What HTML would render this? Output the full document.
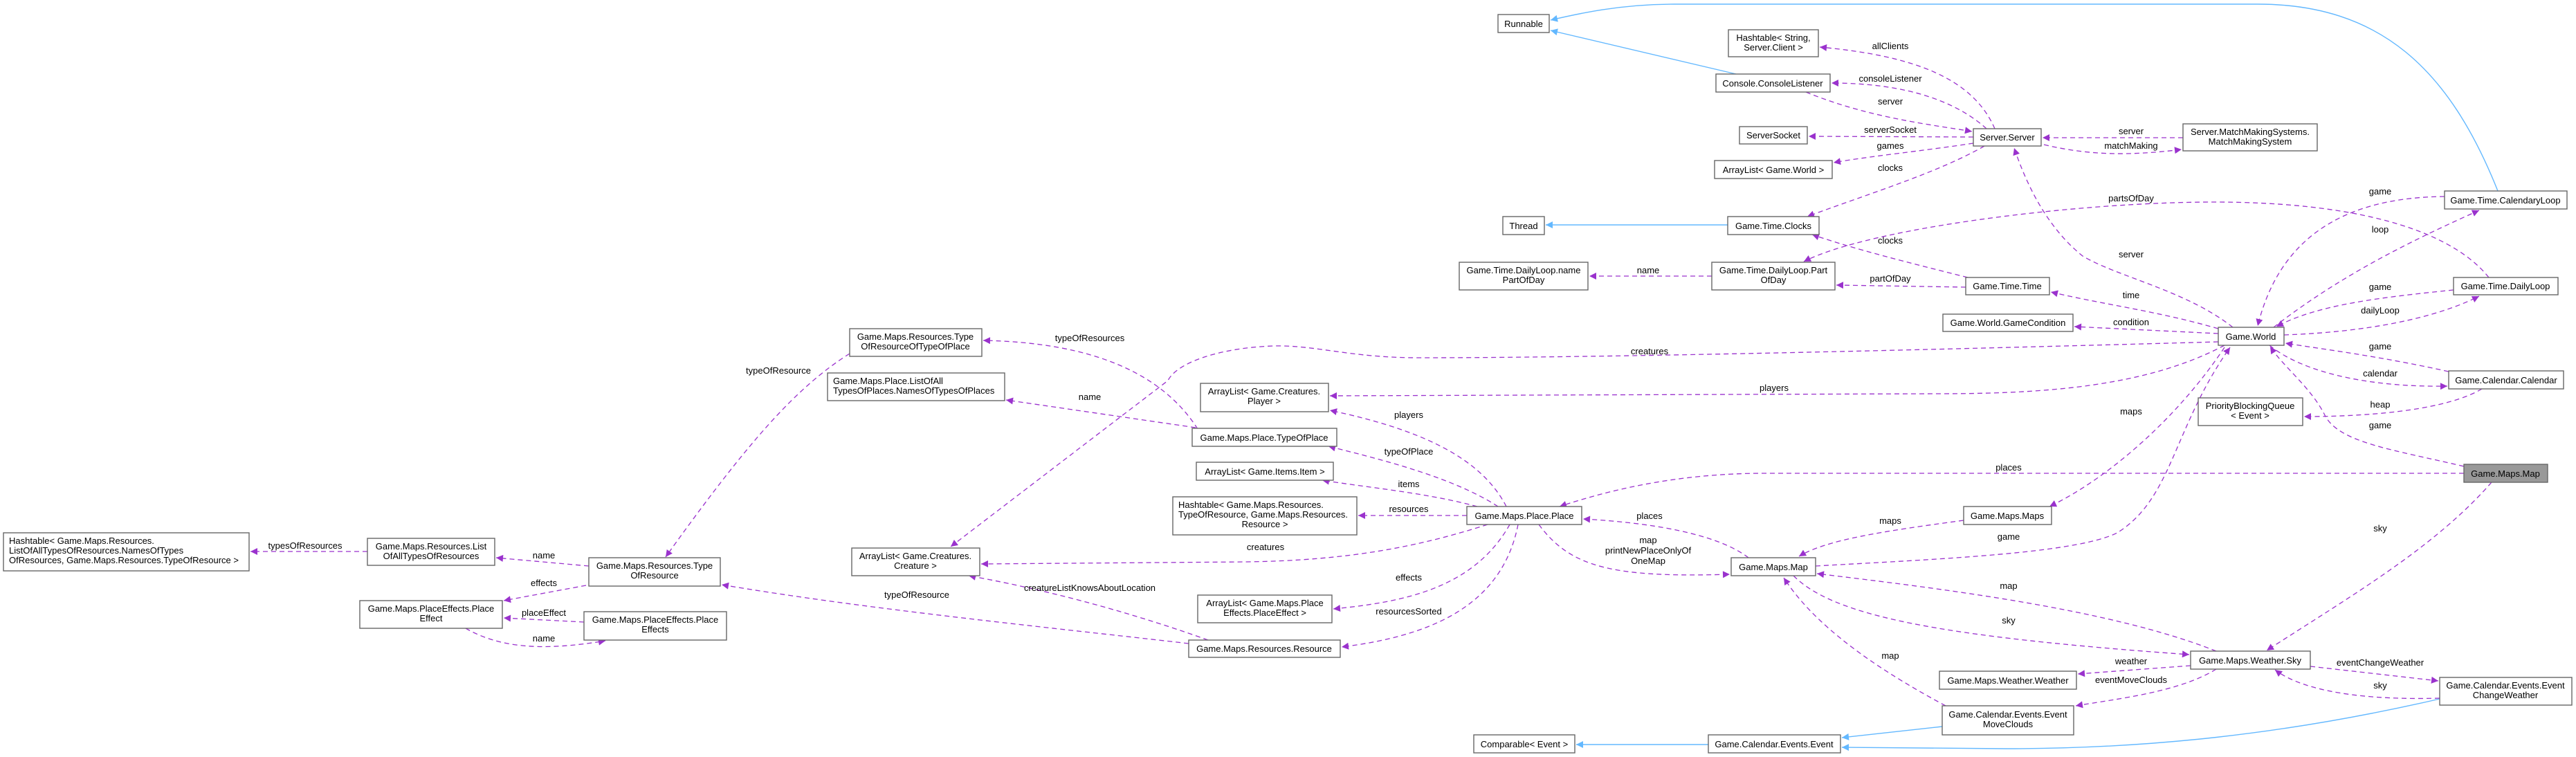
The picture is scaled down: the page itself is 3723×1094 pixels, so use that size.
<!DOCTYPE html>
<html><head><meta charset="utf-8"><style>
html,body{margin:0;padding:0;background:#fff;}
svg{display:block;}
text{font-family:"Liberation Sans",Arial,sans-serif;font-size:13px;fill:#000;}
.b{fill:#fff;stroke:#666;stroke-width:1.4;}
.g{fill:#999;stroke:#666;stroke-width:1.4;}
.u{fill:none;stroke:#9a32cd;stroke-width:1.3;stroke-dasharray:7,5;marker-end:url(#pa);}
.i{fill:none;stroke:#63b8ff;stroke-width:1.4;marker-end:url(#ba);}
.l{text-anchor:middle;}
</style></head><body>
<svg width="3723" height="1094" viewBox="0 0 3723 1094" xmlns="http://www.w3.org/2000/svg">
<defs>
<marker id="pa" viewBox="0 0 10 10" refX="10" refY="5" markerWidth="13" markerHeight="10" markerUnits="userSpaceOnUse" orient="auto"><path d="M0,0 L10,5 L0,10 z" fill="#9a32cd"/></marker>
<marker id="ba" viewBox="0 0 10 10" refX="10" refY="5" markerWidth="13" markerHeight="10" markerUnits="userSpaceOnUse" orient="auto"><path d="M0,0 L10,5 L0,10 z" fill="#63b8ff"/></marker>
</defs>

<!-- inheritance -->
<path class="i" d="M2509,107 L2241,44"/>
<path class="i" d="M3610,276 C3540,100 3440,6 3263,6 L2420,6 C2340,6 2280,20 2241,29"/>
<path class="i" d="M2497,325 L2234,325"/>
<path class="i" d="M2807,1050 L2662,1066"/>
<path class="i" d="M3526,1010 C3300,1062 3100,1082 2900,1082 L2662,1080"/>
<path class="i" d="M2469,1076 L2278,1076"/>

<!-- usage edges -->
<path class="u" d="M531,797 L362,797"/>
<path class="u" d="M851,818 L717,806"/>
<path class="u" d="M847,846 L728,868"/>
<path class="u" d="M844,899 L728,893"/>
<path class="u" d="M673,908 C720,935 780,942 875,926"/>
<path class="u" d="M1228,511 C1150,560 1080,640 962,805"/>
<path class="u" d="M1731,620 C1680,540 1580,495 1421,492"/>
<path class="u" d="M1728,618 L1454,578"/>
<path class="u" d="M1718,930 C1500,905 1250,880 1043,845"/>
<path class="u" d="M1746,925 C1620,880 1500,850 1400,832"/>
<path class="u" d="M3206,494 C2700,508 2300,517 2050,517 C1950,517 1900,498 1839,500 C1760,503 1700,525 1688,550 L1374,790"/>
<path class="u" d="M2150,758 C2050,790 1950,810 1800,812 L1418,815"/>
<path class="u" d="M3215,499 C3100,560 2950,569 2800,569 L1922,572"/>
<path class="u" d="M2177,732 C2140,660 2050,620 1922,593"/>
<path class="u" d="M2165,732 C2100,690 2000,665 1920,645"/>
<path class="u" d="M2135,732 C2060,712 1980,705 1911,694"/>
<path class="u" d="M2120,745 L1963,745"/>
<path class="u" d="M2182,758 C2130,850 2030,870 1927,880"/>
<path class="u" d="M2194,758 C2170,880 2060,920 1939,935"/>
<path class="u" d="M2527,806 C2480,770 2380,755 2288,750"/>
<path class="u" d="M2224,758 C2270,820 2330,835 2500,830"/>
<path class="u" d="M3561,684 L2550,684 C2420,684 2320,710 2254,732"/>
<path class="u" d="M2838,752 C2720,768 2640,780 2600,804"/>
<path class="u" d="M3215,502 C3150,600 3050,690 2962,732"/>
<path class="u" d="M2624,818 C2800,808 3000,800 3060,770 C3140,720 3140,620 3223,502"/>
<path class="u" d="M3203,941 C3050,880 2800,850 2626,829"/>
<path class="u" d="M2592,832 C2650,890 2800,920 3164,946"/>
<path class="u" d="M3601,697 C3520,790 3400,860 3276,940"/>
<path class="u" d="M3166,962 L3003,974"/>
<path class="u" d="M3203,967 C3150,1000 3060,1010 3000,1020"/>
<path class="u" d="M2812,1020 C2700,960 2620,900 2578,835"/>
<path class="u" d="M3339,963 L3524,984"/>
<path class="u" d="M3526,1009 C3420,1012 3330,1000 3288,968"/>
<!-- server area -->
<path class="u" d="M2883,186 C2850,110 2760,80 2630,68"/>
<path class="u" d="M2871,186 C2820,140 2740,120 2647,120"/>
<path class="u" d="M2610,133 C2700,170 2790,180 2850,190"/>
<path class="u" d="M2852,198 L2614,197"/>
<path class="u" d="M2852,207 C2780,218 2700,226 2650,235"/>
<path class="u" d="M2868,211 C2800,250 2700,280 2612,313"/>
<path class="u" d="M3155,199 L2952,199"/>
<path class="u" d="M2954,209 C3020,225 3080,225 3153,216"/>
<path class="u" d="M3227,473 C3160,420 3060,400 3010,370 C2960,330 2930,270 2911,214"/>
<path class="u" d="M3597,401 C3540,330 3400,292 3200,292 C3000,292 2700,330 2607,378"/>
<path class="u" d="M2844,401 C2760,380 2680,360 2619,339"/>
<path class="u" d="M2474,399 L2297,399"/>
<path class="u" d="M2841,415 L2654,412"/>
<path class="u" d="M3206,475 C3120,450 3040,440 2964,422"/>
<path class="u" d="M3206,482 L2998,472"/>
<path class="u" d="M3286,473 C3380,400 3480,350 3583,304"/>
<path class="u" d="M3533,284 C3420,285 3300,320 3263,471"/>
<path class="u" d="M3546,419 C3440,430 3350,440 3290,472"/>
<path class="u" d="M3301,484 C3420,480 3520,460 3583,428"/>
<path class="u" d="M3539,537 C3440,515 3360,505 3303,496"/>
<path class="u" d="M3280,499 C3330,540 3430,560 3537,558"/>
<path class="u" d="M3587,562 C3540,590 3440,602 3330,602"/>
<path class="u" d="M3561,674 C3460,650 3380,640 3360,600 C3340,560 3300,530 3281,501"/>

<!-- edge labels -->
<g class="l">
<text x="441" y="793">typesOfResources</text>
<text x="786" y="807">name</text>
<text x="786" y="847">effects</text>
<text x="786" y="890">placeEffect</text>
<text x="786" y="927">name</text>
<text x="1125" y="540">typeOfResource</text>
<text x="1575" y="493">typeOfResources</text>
<text x="1575" y="578">name</text>
<text x="1325" y="864">typeOfResource</text>
<text x="1575" y="854">creatureListKnowsAboutLocation</text>
<text x="1829" y="795">creatures</text>
<text x="2384" y="512">creatures</text>
<text x="2564" y="565">players</text>
<text x="2036" y="604">players</text>
<text x="2036" y="657">typeOfPlace</text>
<text x="2036" y="704">items</text>
<text x="2036" y="740">resources</text>
<text x="2036" y="839">effects</text>
<text x="2036" y="888">resourcesSorted</text>
<text x="2384" y="750">places</text>
<text x="2382" y="785">map</text>
<text x="2382" y="800">printNewPlaceOnlyOf</text>
<text x="2382" y="815">OneMap</text>
<text x="2903" y="680">places</text>
<text x="2732" y="757">maps</text>
<text x="3080" y="599">maps</text>
<text x="2903" y="780">game</text>
<text x="2903" y="851">map</text>
<text x="2903" y="901">sky</text>
<text x="3440" y="768">sky</text>
<text x="3080" y="960">weather</text>
<text x="3080" y="987">eventMoveClouds</text>
<text x="2732" y="952">map</text>
<text x="3440" y="962">eventChangeWeather</text>
<text x="3440" y="995">sky</text>
<text x="2732" y="71">allClients</text>
<text x="2732" y="118">consoleListener</text>
<text x="2732" y="151">server</text>
<text x="2732" y="192">serverSocket</text>
<text x="2732" y="215">games</text>
<text x="2732" y="247">clocks</text>
<text x="3080" y="194">server</text>
<text x="3080" y="215">matchMaking</text>
<text x="3080" y="372">server</text>
<text x="3080" y="291">partsOfDay</text>
<text x="2732" y="352">clocks</text>
<text x="2382" y="395">name</text>
<text x="2732" y="407">partOfDay</text>
<text x="3080" y="431">time</text>
<text x="3080" y="470">condition</text>
<text x="3440" y="336">loop</text>
<text x="3440" y="281">game</text>
<text x="3440" y="419">game</text>
<text x="3440" y="453">dailyLoop</text>
<text x="3440" y="505">game</text>
<text x="3440" y="544">calendar</text>
<text x="3440" y="589">heap</text>
<text x="3440" y="619">game</text>
</g>

<!-- boxes -->
<rect class="b" x="5" y="770" width="355" height="55"/>
<text x="13" y="786">Hashtable&lt; Game.Maps.Resources.</text>
<text x="13" y="800">ListOfAllTypesOfResources.NamesOfTypes</text>
<text x="13" y="814">OfResources, Game.Maps.Resources.TypeOfResource &gt;</text>

<rect class="b" x="531" y="778" width="184" height="39"/>
<text class="l" x="623" y="794">Game.Maps.Resources.List</text>
<text class="l" x="623" y="808">OfAllTypesOfResources</text>

<rect class="b" x="851" y="806" width="190" height="41"/>
<text class="l" x="946" y="822">Game.Maps.Resources.Type</text>
<text class="l" x="946" y="836">OfResource</text>

<rect class="b" x="520" y="868" width="206" height="40"/>
<text class="l" x="623" y="884">Game.Maps.PlaceEffects.Place</text>
<text class="l" x="623" y="898">Effect</text>

<rect class="b" x="844" y="884" width="206" height="41"/>
<text class="l" x="947" y="900">Game.Maps.PlaceEffects.Place</text>
<text class="l" x="947" y="914">Effects</text>

<rect class="b" x="1228" y="475" width="191" height="40"/>
<text class="l" x="1323" y="491">Game.Maps.Resources.Type</text>
<text class="l" x="1323" y="505">OfResourceOfTypeOfPlace</text>

<rect class="b" x="1196" y="539" width="256" height="40"/>
<text x="1204" y="555">Game.Maps.Place.ListOfAll</text>
<text x="1204" y="569">TypesOfPlaces.NamesOfTypesOfPlaces</text>

<rect class="b" x="1231" y="792" width="185" height="40"/>
<text class="l" x="1323" y="808">ArrayList&lt; Game.Creatures.</text>
<text class="l" x="1323" y="822">Creature &gt;</text>

<rect class="b" x="1735" y="554" width="185" height="41"/>
<text class="l" x="1827" y="570">ArrayList&lt; Game.Creatures.</text>
<text class="l" x="1827" y="584">Player &gt;</text>

<rect class="b" x="1723" y="619" width="209" height="26"/>
<text class="l" x="1827" y="637">Game.Maps.Place.TypeOfPlace</text>

<rect class="b" x="1729" y="668" width="198" height="26"/>
<text class="l" x="1828" y="686">ArrayList&lt; Game.Items.Item &gt;</text>

<rect class="b" x="1695" y="718" width="266" height="55"/>
<text x="1703" y="734">Hashtable&lt; Game.Maps.Resources.</text>
<text x="1703" y="748">TypeOfResource, Game.Maps.Resources.</text>
<text class="l" x="1828" y="762">Resource &gt;</text>

<rect class="b" x="1731" y="860" width="194" height="40"/>
<text class="l" x="1828" y="876">ArrayList&lt; Game.Maps.Place</text>
<text class="l" x="1828" y="890">Effects.PlaceEffect &gt;</text>

<rect class="b" x="1718" y="925" width="219" height="25"/>
<text class="l" x="1827" y="942">Game.Maps.Resources.Resource</text>

<rect class="b" x="2165" y="21" width="74" height="26"/>
<text class="l" x="2202" y="39">Runnable</text>

<rect class="b" x="2498" y="43" width="130" height="39"/>
<text class="l" x="2563" y="59">Hashtable&lt; String,</text>
<text class="l" x="2563" y="73">Server.Client &gt;</text>

<rect class="b" x="2480" y="107" width="165" height="26"/>
<text class="l" x="2562" y="125">Console.ConsoleListener</text>

<rect class="b" x="2514" y="183" width="98" height="25"/>
<text class="l" x="2563" y="200">ServerSocket</text>

<rect class="b" x="2478" y="232" width="170" height="26"/>
<text class="l" x="2563" y="250">ArrayList&lt; Game.World &gt;</text>

<rect class="b" x="2852" y="186" width="98" height="25"/>
<text class="l" x="2901" y="203">Server.Server</text>

<rect class="b" x="3155" y="179" width="194" height="39"/>
<text class="l" x="3252" y="195">Server.MatchMakingSystems.</text>
<text class="l" x="3252" y="209">MatchMakingSystem</text>

<rect class="b" x="2172" y="313" width="60" height="26"/>
<text class="l" x="2202" y="331">Thread</text>

<rect class="b" x="2497" y="313" width="132" height="26"/>
<text class="l" x="2563" y="331">Game.Time.Clocks</text>

<rect class="b" x="3533" y="276" width="177" height="26"/>
<text class="l" x="3621" y="294">Game.Time.CalendaryLoop</text>

<rect class="b" x="2109" y="379" width="186" height="40"/>
<text class="l" x="2202" y="395">Game.Time.DailyLoop.name</text>
<text class="l" x="2202" y="409">PartOfDay</text>

<rect class="b" x="2474" y="379" width="178" height="40"/>
<text class="l" x="2563" y="395">Game.Time.DailyLoop.Part</text>
<text class="l" x="2563" y="409">OfDay</text>

<rect class="b" x="2841" y="401" width="121" height="25"/>
<text class="l" x="2901" y="418">Game.Time.Time</text>

<rect class="b" x="3546" y="401" width="151" height="25"/>
<text class="l" x="3621" y="418">Game.Time.DailyLoop</text>

<rect class="b" x="2808" y="454" width="188" height="25"/>
<text class="l" x="2902" y="471">Game.World.GameCondition</text>

<rect class="b" x="3206" y="473" width="95" height="26"/>
<text class="l" x="3253" y="491">Game.World</text>

<rect class="b" x="3539" y="536" width="166" height="26"/>
<text class="l" x="3622" y="554">Game.Calendar.Calendar</text>

<rect class="b" x="3177" y="575" width="151" height="40"/>
<text class="l" x="3252" y="591">PriorityBlockingQueue</text>
<text class="l" x="3252" y="605">&lt; Event &gt;</text>

<rect class="g" x="3561" y="671" width="121" height="26"/>
<text class="l" x="3621" y="689">Game.Maps.Map</text>

<rect class="b" x="2120" y="732" width="166" height="26"/>
<text class="l" x="2203" y="750">Game.Maps.Place.Place</text>

<rect class="b" x="2838" y="732" width="127" height="26"/>
<text class="l" x="2901" y="750">Game.Maps.Maps</text>

<rect class="b" x="2502" y="806" width="122" height="26"/>
<text class="l" x="2563" y="824">Game.Maps.Map</text>

<rect class="b" x="3166" y="941" width="173" height="26"/>
<text class="l" x="3252" y="959">Game.Maps.Weather.Sky</text>

<rect class="b" x="2803" y="970" width="198" height="26"/>
<text class="l" x="2902" y="988">Game.Maps.Weather.Weather</text>

<rect class="b" x="3526" y="979" width="191" height="40"/>
<text class="l" x="3621" y="995">Game.Calendar.Events.Event</text>
<text class="l" x="3621" y="1009">ChangeWeather</text>

<rect class="b" x="2807" y="1020" width="190" height="42"/>
<text class="l" x="2902" y="1037">Game.Calendar.Events.Event</text>
<text class="l" x="2902" y="1051">MoveClouds</text>

<rect class="b" x="2130" y="1062" width="146" height="26"/>
<text class="l" x="2203" y="1080">Comparable&lt; Event &gt;</text>

<rect class="b" x="2469" y="1062" width="191" height="26"/>
<text class="l" x="2564" y="1080">Game.Calendar.Events.Event</text>
</svg>
</body></html>
